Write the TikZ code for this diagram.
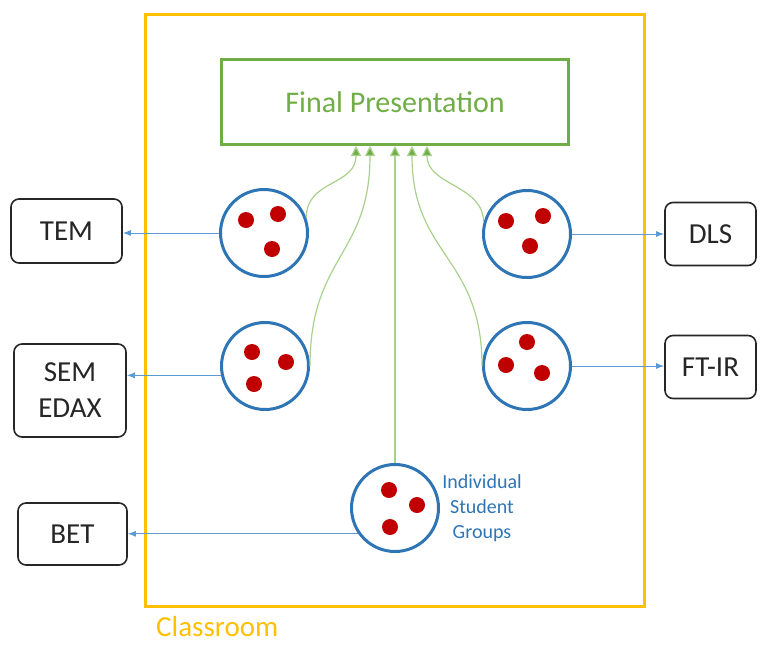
\documentclass[tikz,border=0pt]{standalone}
\usepackage{fontspec}
\setmainfont{Carlito}
\usetikzlibrary{arrows.meta,positioning}
\definecolor{roomorange}{HTML}{FFC000}
\definecolor{presgreen}{HTML}{70AD47}
\definecolor{linkgreen}{HTML}{A9D18E}
\definecolor{grpblue}{HTML}{2E75B6}
\definecolor{linkblue}{HTML}{5B9BD5}
\definecolor{dotred}{HTML}{C00000}

\begin{document}
\begin{tikzpicture}[x=1pt,y=-1pt,>=Latex,
  group/.style={circle,draw=grpblue,line width=3pt,minimum size=87pt,inner sep=0pt},
  dot/.style={fill=dotred},
  instr/.style={draw=black!85,rounded corners=8pt,line width=1.6pt,text=black!85,
    font=\fontsize{29}{36}\selectfont,align=center,inner sep=0pt},
  tolab/.style={-{Latex[length=8pt,width=6pt]},linkblue,line width=1pt},
  topres/.style={-{Triangle[length=10pt,width=10pt,fill=presgreen]},linkgreen,line width=1.2pt}]
  \useasboundingbox (0,0) rectangle (767,645);
  \draw[roomorange,line width=3pt] (145.5,14) rectangle (644,606);
  \node[anchor=west,text=roomorange,font=\fontsize{29}{29}\selectfont,inner sep=0pt] (roomlab) at (156,627) {Classroom};
  \node[draw=presgreen,line width=3pt,minimum width=347pt,minimum height=85pt,inner sep=0pt,
    text=presgreen,font=\fontsize{30}{30}\selectfont] (fp) at (395,102) {Final Presentation};

  \node[group] (g1) at (264,233) {};
  \node[group] (g2) at (265,366) {};
  \node[group] (g3) at (527,234) {};
  \node[group] (g4) at (527,366) {};
  \node[group] (g5) at (395,508) {};
  \fill[dot] (g1.center) ++(-18,-13) circle (8) (g1.center) ++(14,-19) circle (8) (g1.center) ++(8,16) circle (8);
  \fill[dot] (g2.center) ++(-13,-14) circle (8) (g2.center) ++(21,-4) circle (8) (g2.center) ++(-11,18) circle (8);
  \fill[dot] (g3.center) ++(-21,-13) circle (8) (g3.center) ++(16,-18) circle (8) (g3.center) ++(3,12) circle (8);
  \fill[dot] (g4.center) ++(0,-24) circle (8) (g4.center) ++(-21,-1) circle (8) (g4.center) ++(15,7) circle (8);
  \fill[dot] (g5.center) ++(-6,-18) circle (8) (g5.center) ++(22,-3) circle (8) (g5.center) ++(-5,19) circle (8);
  \node[text=grpblue,font=\fontsize{20}{25}\selectfont,align=center] (grplab) at (482,508) {Individual\\Student\\Groups};

  \node[instr,minimum width=111pt,minimum height=64pt] (tem) at (66.5,231) {TEM};
  \node[instr,minimum width=112pt,minimum height=93pt] (sem) at (70,390.5) {SEM\\EDAX};
  \node[instr,minimum width=109pt,minimum height=62pt] (bet) at (72.5,534) {BET};
  \node[instr,minimum width=91pt,minimum height=63pt] (dls) at (710.5,234) {DLS};
  \node[instr,minimum width=91pt,minimum height=63pt] (ftir) at (710.5,367) {FT-IR};

  \draw[tolab] (g1.west) -- (g1.west -| tem.east);
  \draw[tolab] (g2.192) -- (g2.192 -| sem.east);
  \draw[tolab] (g5.215) -- (g5.215 -| bet.east);
  \draw[tolab] (g3.east) -- (g3.east -| dls.west);
  \draw[tolab] (g4.east) -- (g4.east -| ftir.west);

  \draw[topres] (g1.20) .. controls +(0,-38) and +(0,40) .. ([xshift=-39pt]fp.south);
  \draw[topres] (g2.east) .. controls +(0,-110) and +(0,110) .. ([xshift=-25pt]fp.south);
  \draw[topres] (g5.north) -- (g5.north |- fp.south);
  \draw[topres] (g4.west) .. controls +(0,-110) and +(0,110) .. ([xshift=17pt]fp.south);
  \draw[topres] (g3.165) .. controls +(0,-38) and +(0,40) .. ([xshift=32pt]fp.south);
\end{tikzpicture}
\end{document}
